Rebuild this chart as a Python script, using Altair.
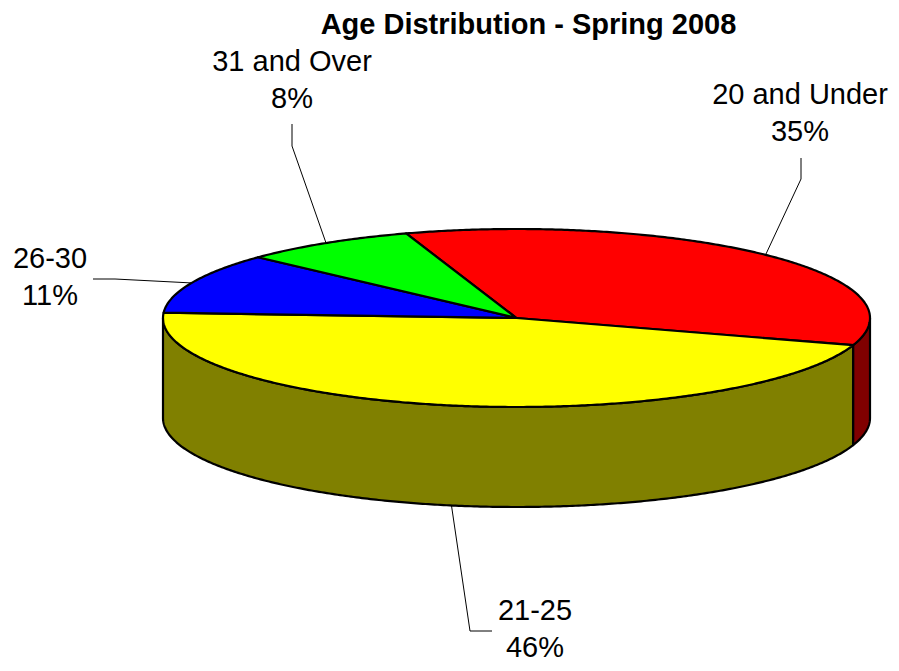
import math
import altair as alt

# ---------------- data ----------------
CATEGORIES = ["20 and Under", "21-25", "26-30", "31 and Over"]
PERCENTS = [35, 46, 11, 8]
TITLE = "Age Distribution - Spring 2008"

# ---------------- styles ----------------
TOP_COLORS = ["#FF0000", "#FFFF00", "#0000FF", "#00FF00"]
SIDE_COLORS = ["#800000", "#808000", "#000080", "#008000"]
FONT = "Liberation Sans"

# ---------------- layout (chart pixel space, y down) ----------------
W, H = 883, 660
CX, CY, RX, RY, DEPTH = 508.5, 310.0, 353.5, 89.0, 100.0
START_ANGLE = 251.8  # degrees, clockwise in screen space (270 = 12 o'clock)

# first-line center of each label, leader start, leader knee
LABEL_LAYOUT = {
    "20 and Under": dict(center=(792, 87), start=(793, 150), knee=(793, 171)),
    "21-25": dict(center=(527, 603), start=(484, 623), knee=(462, 623)),
    "26-30": dict(center=(42, 251), start=(85, 271), knee=(107, 271)),
    "31 and Over": dict(center=(284, 54), start=(284, 116), knee=(284, 138)),
}


def pt(t, dy=0.0):
    r = math.radians(t)
    return [CX + RX * math.cos(r), CY + RY * math.sin(r) + dy]


def arc(a, b, dy=0.0):
    n = max(2, int(abs(b - a) / 0.5) + 1)
    return [pt(a + (b - a) * i / (n - 1), dy) for i in range(n)]


total = float(sum(PERCENTS))
spans = []
ang = START_ANGLE
for v in PERCENTS:
    span = 360.0 * v / total
    spans.append((ang, ang + span))
    ang += span

side_feats, top_feats = [], []
leader_rows, label_rows = [], []
for cat, v, (a, b) in zip(CATEGORIES, PERCENTS, spans):
    # top face
    ring = [[CX, CY]] + arc(a, b) + [[CX, CY]]
    top_feats.append({"type": "Feature",
                      "geometry": {"type": "Polygon", "coordinates": [ring]},
                      "properties": {"key": cat + " top"}})
    # visible front wall (angles 0..180 in screen space)
    for shift in (-360.0, 0.0, 360.0):
        lo, hi = max(a, shift), min(b, shift + 180.0)
        if hi > lo:
            wall = arc(lo, hi) + arc(hi, lo, DEPTH)
            wall.append(wall[0])
            side_feats.append({"type": "Feature",
                               "geometry": {"type": "Polygon", "coordinates": [wall]},
                               "properties": {"key": cat + " side"}})
    # leader line
    mid = (a + b) / 2.0
    m = mid % 360.0
    anchor = pt(mid, DEPTH) if 0 < m < 180 else pt(mid)
    lay = LABEL_LAYOUT[cat]
    leader_rows.append({"x": lay["start"][0], "y": lay["start"][1],
                        "x2": lay["knee"][0], "y2": lay["knee"][1]})
    leader_rows.append({"x": lay["knee"][0], "y": lay["knee"][1],
                        "x2": anchor[0], "y2": anchor[1]})
    label_rows.append({"x": lay["center"][0], "y": lay["center"][1],
                       "text": f"{cat}\n{v}%"})

keys = [c + " side" for c in CATEGORIES] + [c + " top" for c in CATEGORIES]
colors = SIDE_COLORS + TOP_COLORS
fill_scale = alt.Scale(domain=keys, range=colors)

sides = alt.Chart(alt.Data(values=side_feats)).mark_geoshape(
    stroke="black", strokeWidth=2.2, strokeJoin="round"
).encode(fill=alt.Fill("properties.key:N", scale=fill_scale, legend=None))

tops = alt.Chart(alt.Data(values=top_feats)).mark_geoshape(
    stroke="black", strokeWidth=2.2, strokeJoin="round"
).encode(fill=alt.Fill("properties.key:N", scale=fill_scale, legend=None))

leaders = alt.Chart(alt.Data(values=leader_rows)).mark_rule(
    color="black", strokeWidth=1
).encode(longitude="x:Q", latitude="y:Q", longitude2="x2:Q", latitude2="y2:Q")

labels = alt.Chart(alt.Data(values=label_rows)).mark_text(
    font=FONT, fontSize=29, lineBreak="\n", lineHeight=37,
    align="center", baseline="middle", color="black"
).encode(longitude="x:Q", latitude="y:Q", text="text:N")

chart = alt.layer(sides, tops, leaders, labels).project(
    type="identity", scale=1, translate=[0, 0]
).properties(
    width=W, height=H, padding=0, autosize=alt.AutoSizeParams(type="none"),
    title=alt.Title(TITLE, font=FONT, fontSize=29, fontWeight="bold", color="black",
                    anchor="middle", frame="group", offset=-32, dx=79)
).configure_view(strokeWidth=0)

chart.save("out.html", embed_options={"renderer": "svg", "actions": False})
